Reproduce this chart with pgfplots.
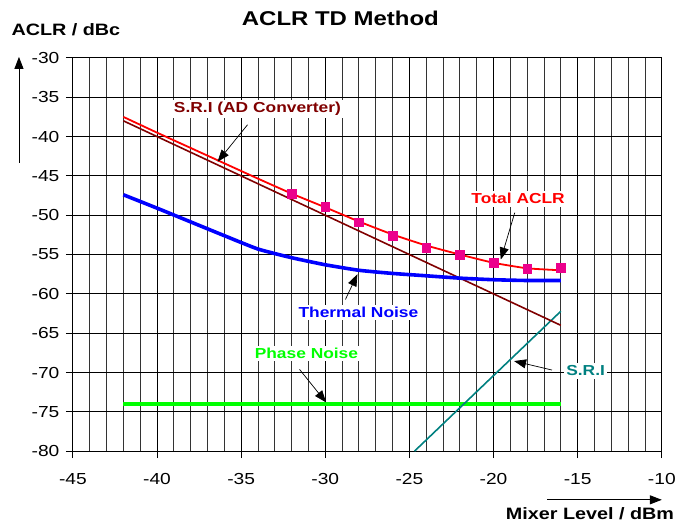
\documentclass[border=0pt]{standalone}
\usepackage{pgfplots}
\pgfplotsset{compat=1.18}
\usepackage{fontspec}
\setmainfont[FakeStretch=1.2]{Liberation Sans}
\usetikzlibrary{arrows.meta}

\definecolor{sridark}{RGB}{128,0,0}
\definecolor{sriteal}{RGB}{0,128,128}
\definecolor{pnoise}{RGB}{0,255,0}

\tikzset{
    arrow/.style={-{Triangle[length=12pt,width=9pt]}, line width=0.7pt, black},
    lab/.style={fill=white, inner sep=2.5pt, font=\bfseries\fontsize{14.5}{16}\selectfont},
}

\begin{document}
\begin{tikzpicture}
\begin{axis}[
    width=590pt, height=394pt, scale only axis,
    xmin=-45, xmax=-10, ymin=-80, ymax=-30,
    xtick={-45,-40,-35,-30,-25,-20,-15,-10},
    xticklabels={-45,-40,-35,-30,-25,-20,-15,-10},
    ytick={-80,-75,-70,-65,-60,-55,-50,-45,-40,-35,-30},
    yticklabels={-80,-75,-70,-65,-60,-55,-50,-45,-40,-35,-30},
    minor x tick num=4,
    xmajorgrids, xminorgrids, ymajorgrids,
    major grid style={black, line width=0.9pt},
    minor grid style={black!80, line width=0.9pt},
    axis line style={line width=1.2pt},
    tick align=outside, major tick length=7pt, minor tick length=0pt,
    tick style={black, line width=0.9pt},
    xtick pos=bottom, ytick pos=left,
    ticklabel style={font=\fontsize{16}{18}\selectfont},
    xticklabel style={yshift=-12pt},
    yticklabel style={xshift=-3pt},
]
% Phase Noise
\addplot[pnoise, line width=4pt] coordinates {(-42,-74) (-16,-74)};
% S.R.I
\addplot[sriteal, line width=1.6pt] coordinates {(-24.7,-80) (-16,-62.2)};
% S.R.I (AD Converter)
\addplot[sridark, line width=1.6pt] coordinates {(-42,-38) (-16,-64)};
% Thermal Noise
\addplot[blue, line width=3.6pt, smooth, tension=0.3] coordinates {
    (-42,-47.4) (-40,-49.1) (-38,-50.85) (-36,-52.6) (-34,-54.3) (-32,-55.4)
    (-30,-56.3) (-28,-57.0) (-26,-57.4) (-24,-57.7) (-22,-58.0) (-20,-58.2)
    (-18,-58.3) (-16,-58.3)
};
% Total ACLR
\addplot[red, line width=1.8pt, smooth, tension=0.3] coordinates {
    (-42,-37.5) (-40,-39.5) (-38,-41.45) (-36,-43.4) (-34,-45.35) (-32,-47.25)
    (-30,-49.0) (-28,-50.8) (-26,-52.45) (-24,-53.85) (-22,-55.0) (-20,-56.05)
    (-18,-56.75) (-16,-57.0)
};
\addplot[only marks, mark=square*, mark size=4.3pt, magenta] coordinates {
    (-32,-47.3) (-30,-48.9) (-28,-50.9) (-26,-52.6) (-24,-54.1) (-22,-55.0)
    (-20,-56.05) (-18,-56.8) (-16,-56.7)
};

\draw[arrow] (axis cs:-34.62,-38.5) -- (axis cs:-36.4,-43.2);
\draw[arrow] (axis cs:-18.74,-49.67) -- (axis cs:-19.57,-55.63);
\draw[arrow] (axis cs:-28.8,-60.7) -- (axis cs:-28.09,-57.5);
\draw[arrow] (axis cs:-31.53,-69.6) -- (axis cs:-29.95,-73.8);
\draw[arrow] (axis cs:-16.53,-69.68) -- (axis cs:-18.78,-68.54);

\node[lab, text=sridark] at (axis cs:-34.03,-36.47) {S.R.I (AD Converter)};
\node[lab, text=red] at (axis cs:-18.54,-47.9) {Total ACLR};
\node[lab, text=blue] at (axis cs:-28.03,-62.36) {Thermal Noise};
\node[lab, text=pnoise] at (axis cs:-31.12,-67.56) {Phase Noise};
\node[lab, text=sriteal] at (axis cs:-14.53,-69.8) {S.R.I};
\end{axis}

\begin{scope}[shift={(current axis.south west)}]
\path (-73pt,-73pt) rectangle (606pt,452pt);
\node[font=\bfseries\fontsize{20}{22}\selectfont] at (268pt,434pt) {ACLR TD Method};
\node[font=\bfseries\fontsize{16.5}{19}\selectfont] at (-7pt,422pt) {ACLR / dBc};
\node[font=\bfseries\fontsize{16.5}{19}\selectfont] at (518pt,-63pt) {Mixer Level / dBm};
\draw[-{Triangle[length=12pt,width=9pt]}, line width=0.9pt] (-54pt,289pt) -- (-54pt,395pt);
\draw[-{Triangle[length=12pt,width=9pt]}, line width=0.9pt] (475pt,-48.7pt) -- (590pt,-48.7pt);
\end{scope}
\end{tikzpicture}
\end{document}
